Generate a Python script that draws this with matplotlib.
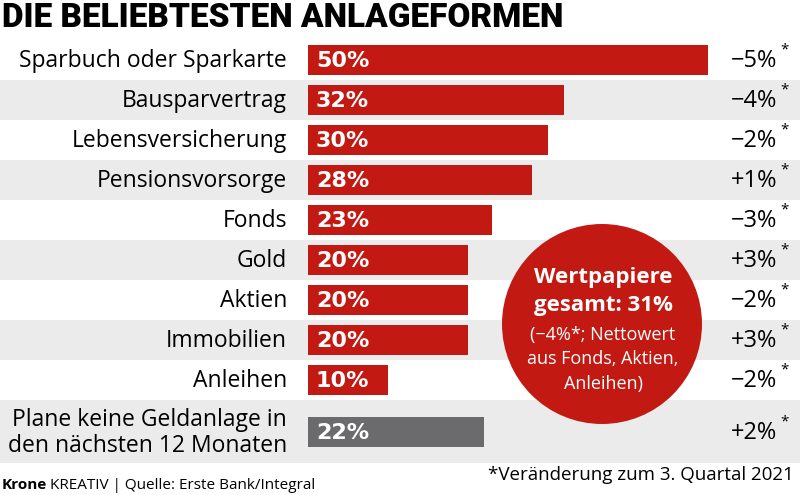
import matplotlib.pyplot as plt
from matplotlib.patches import Circle, Rectangle

categories = ['Sparbuch oder Sparkarte', 'Bausparvertrag', 'Lebensversicherung',
              'Pensionsvorsorge', 'Fonds', 'Gold', 'Aktien', 'Immobilien', 'Anleihen',
              'Plane keine Geldanlage in\nden nächsten 12 Monaten']
values = [50, 32, 30, 28, 23, 20, 20, 20, 10, 22]
changes = ['−5%', '−4%', '−2%', '+1%', '−3%', '+3%', '−2%', '+3%', '−2%', '+2%']

RED = '#c21a12'
GREY = '#6b6b6d'
BAND = '#ebebeb'
FONT = 'Open Sans'

# vertical layout in pixels (row centres), last row is double height
ypos = [60 + 40 * i for i in range(9)] + [432]

fig = plt.figure(figsize=(8, 4.95), dpi=100)
ax = fig.add_axes([0, 0, 1, 1])
# x in percent: 0% at pixel 308, 8 px per percent
ax.set_xlim(-308 / 8, (800 - 308) / 8)
ax.set_ylim(495, 0)
ax.axis('off')

x0, x1 = ax.get_xlim()
# alternating grey bands
for i, y in enumerate(ypos):
    if i % 2 == 1:
        if i == 9:
            ax.add_patch(Rectangle((x0, 400), x1 - x0, 63, color=BAND, lw=0, zorder=0))
        else:
            ax.add_patch(Rectangle((x0, y - 20), x1 - x0, 40, color=BAND, lw=0, zorder=0))

colors = [RED] * 9 + [GREY]
ax.barh(ypos, values, height=30, left=0, color=colors, zorder=2)

for y, v, c, ch in zip(ypos, values, categories, changes):
    ax.text(1, y + 1, f'{v}%', color='white', fontsize=16, fontweight='bold',
            family='DejaVu Sans', va='center', ha='left', zorder=3)
    ax.text(-2.6, y + 1, c, fontsize=16.5, family=FONT, va='center', ha='right',
            linespacing=1.15, zorder=3)
    ax.text(58.7, y + 1, ch, fontsize=17, family=FONT, va='center', ha='right', zorder=3)
    ax.text(59.0, y - 10, '*', fontsize=11, family=FONT, va='center', ha='left', zorder=3)

# circle annotation, drawn in pixel space
circ_ax = fig.add_axes([0, 0, 1, 1])
circ_ax.set_xlim(0, 800)
circ_ax.set_ylim(495, 0)
circ_ax.set_aspect('equal')
circ_ax.axis('off')
circ_ax.add_patch(Circle((602, 324), 100, color=RED, lw=0))
circ_ax.text(603, 278, 'Wertpapiere', color='white', fontsize=16, fontweight='bold',
             family=FONT, ha='center', va='center')
circ_ax.text(603, 305, 'gesamt: 31%', color='white', fontsize=16, fontweight='bold',
             family=FONT, ha='center', va='center')
circ_ax.text(603, 335, '(−4%*; Nettowert', color='white', fontsize=13,
             family=FONT, ha='center', va='center')
circ_ax.text(603, 359, 'aus Fonds, Aktien,', color='white', fontsize=13,
             family=FONT, ha='center', va='center')
circ_ax.text(603, 384, 'Anleihen)', color='white', fontsize=13,
             family=FONT, ha='center', va='center')

# title and footer
fig.text(0.003, 0.964, 'DIE BELIEBTESTEN ANLAGEFORMEN', fontsize=24, fontweight='black',
         family='Roboto', va='center', ha='left')
fig.text(0.002, 0.02, 'Krone', fontsize=11, fontweight='bold', family=FONT,
         va='center', ha='left')
fig.text(0.063, 0.02, 'KREATIV | Quelle: Erste Bank/Integral', fontsize=11,
         family=FONT, va='center', ha='left')
fig.text(0.992, 0.04, '*Veränderung zum 3. Quartal 2021', fontsize=13.5,
         family=FONT, va='center', ha='right')

fig.savefig('out.png', dpi=100)
